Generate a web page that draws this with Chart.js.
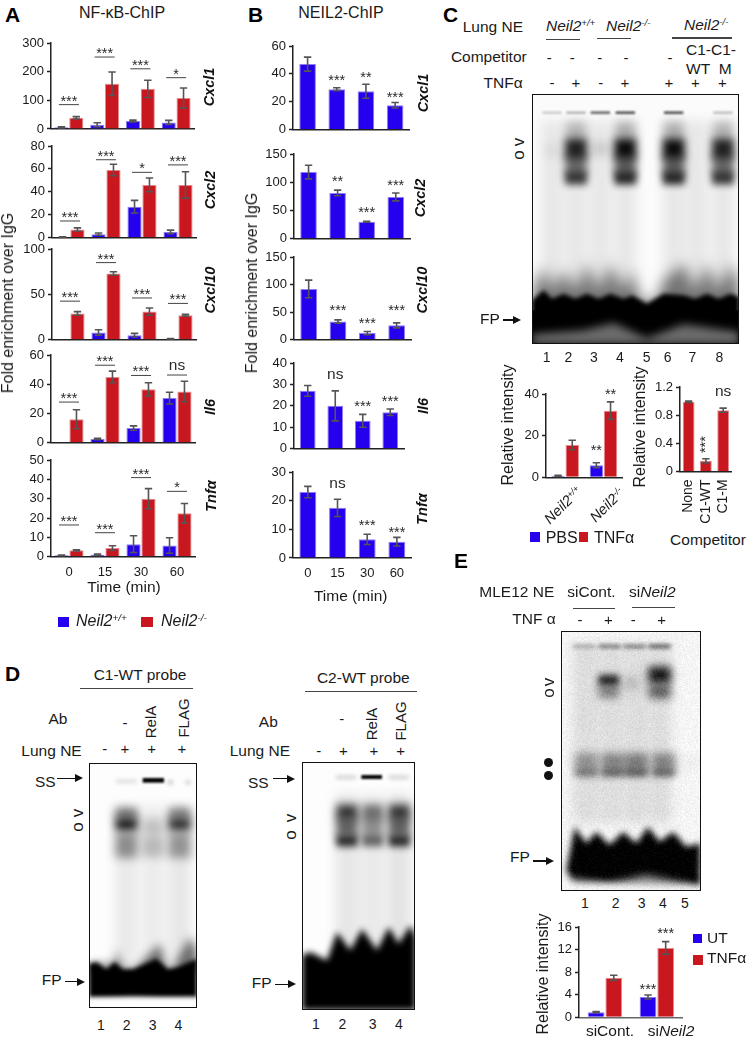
<!DOCTYPE html>
<html>
<head>
<meta charset="utf-8">
<title>NEIL2 ChIP and EMSA figure</title>
<script src="https://cdn.jsdelivr.net/npm/chart.js@4"></script>
<style>
html, body { margin: 0; padding: 0; background: #fff; }
#fig { position: relative; width: 747px; height: 1037px; overflow: hidden; font-family: "Liberation Sans", Arial, sans-serif; color: #1a1a1a; }
#fig canvas { position: absolute; }
.t { position: absolute; white-space: nowrap; line-height: 1; }
.t sup { font-size: 0.62em; line-height: 0; vertical-align: 0.5em; }
.gel { position: absolute; box-sizing: border-box; border: 1.5px solid #111; }
</style>
</head>
<body>
<div id="fig"></div>
<script>
var timeCats = ['0', '15', '30', '60'];
var siCats = ['siCont.', 'siNeil2'];
var genoCats = ['Neil2+/+', 'Neil2-/-'];
var compCats = ['None', 'C1-WT', 'C1-M'];

// panel A, NF-kB ChIP
var aCxcl1Wt = [6, 15, 28, 23], aCxcl1WtErr = [2, 7, 3, 7];
var aCxcl1Ko = [39, 158, 140, 108], aCxcl1KoErr = [4, 41, 30, 35];
var aCxcl1Sig = ['***', '***', '***', '*'], aCxcl1SigAt = [85, 251, 210, 179];

var aCxcl2Wt = [0.5, 3, 27, 5], aCxcl2WtErr = [0.3, 1, 5.5, 1.5];
var aCxcl2Ko = [7, 59, 46, 46], aCxcl2KoErr = [1.5, 5, 6, 11.5];
var aCxcl2Sig = ['***', '***', '*', '***'], aCxcl2SigAt = [14.5, 68, 57, 63.5];

var aCxcl10Wt = [0, 8, 5, 1], aCxcl10WtErr = [0, 3, 2, 0.3];
var aCxcl10Ko = [29, 73, 31, 27], aCxcl10KoErr = [2, 2, 4, 1];
var aCxcl10Sig = ['***', '***', '***', '***'], aCxcl10SigAt = [42.5, 85, 46, 40];

var aIl6Wt = [0, 2.5, 10, 30.5], aIl6WtErr = [0, 0.5, 1.5, 4];
var aIl6Ko = [16, 45, 36.5, 35], aIl6KoErr = [6.5, 4, 4.5, 7];
var aIl6Sig = ['***', '***', '***', 'ns'], aIl6SigAt = [27.8, 53, 46, 46.3];

var aTnfWt = [0.7, 1, 6.5, 5.8], aTnfWtErr = [0.2, 0.4, 4.3, 4];
var aTnfKo = [3.3, 4.5, 30, 22.5], aTnfKoErr = [0.3, 1.2, 5.2, 5];
var aTnfSig = ['***', '***', '***', '*'], aTnfSigAt = [16.4, 12.4, 40.9, 33.8];

// panel B, NEIL2 ChIP
var bCxcl1 = [47, 29, 27.5, 17.5], bCxcl1Err = [5, 1, 5, 2];
var bCxcl1Sig = [null, '***', '**', '***'], bCxcl1SigAt = [null, 32.8, 34.7, 20.8];

var bCxcl2 = [118, 81, 30, 74], bCxcl2Err = [12, 5, 1, 7];
var bCxcl2Sig = [null, '**', '***', '***'], bCxcl2SigAt = [null, 95, 40, 88.6];

var bCxcl10 = [92, 33, 12, 26], bCxcl10Err = [16, 3, 3, 4.5];
var bCxcl10Sig = [null, '***', '***', '***'], bCxcl10SigAt = [null, 46.6, 23, 46.6];

var bIl6 = [27, 20, 13, 17], bIl6Err = [2.5, 7, 3, 1.5];
var bIl6Sig = [null, 'ns', '***', '***'], bIl6SigAt = [null, 30.3, 18, 20.4];

var bTnf = [23, 17.5, 6.5, 5.7], bTnfErr = [2, 3, 1.8, 1.5];
var bTnfSig = [null, 'ns', '***', '***'], bTnfSigAt = [null, 22.7, 10, 7.7];

// panel C quantification
var cPbs = [0.7, 5.8], cPbsErr = [0.3, 1.2];
var cTnf = [15.5, 32], cTnfErr = [2.3, 4.2];
var cSig = ['**', '**'], cSigAt = [11.2, 38.2], cSigCat = [1, 1], cSigBar = [0, 1];

var compVals = [0.99, 0.15, 0.87], compErr = [0.01, 0.03, 0.03];
var compSig = ['***', 'ns'], compSigAt = [0.26, 1], compSigCat = [1, 2], compSigUp = [true, false];

// panel E quantification
var eUt = [0.9, 3.6], eUtErr = [0.1, 0.35];
var eTnf = [7, 12.3], eTnfErr = [0.45, 1.1];
var eSig = ['***', '***'], eSigAt = [4.3, 14.3], eSigCat = [1, 1], eSigBar = [0, 1];

var BLUE = '#2500ee', BLUE_EDGE = '#8d7cf4';
var RED = '#c8171e', RED_EDGE = '#e4898c';
var fig = document.getElementById('fig');

function marksPlugin(c)
{
	return {
		id: 'marks',
		afterDatasetsDraw: function (chart) {
			var ctx = chart.ctx, yS = chart.scales.y, xS = chart.scales.x;
			ctx.save();
			// error bars
			c.series.forEach(function (s, si) {
				var meta = chart.getDatasetMeta(si);
				s.err.forEach(function (e, i) {
					if (!e) return;
					var x = meta.data[i].x, hi = yS.getPixelForValue(s.vals[i] + e), lo = yS.getPixelForValue(s.vals[i] - e);
					ctx.strokeStyle = '#555';
					ctx.lineWidth = 1.6;
					ctx.beginPath();
					ctx.moveTo(x, hi); ctx.lineTo(x, lo);
					ctx.moveTo(x - 3.7, hi); ctx.lineTo(x + 3.7, hi);
					ctx.moveTo(x - 3.7, lo); ctx.lineTo(x + 3.7, lo);
					ctx.stroke();
				});
			});
			// significance labels
			(c.sig || []).forEach(function (txt, i) {
				if (!txt) return;
				var cat = c.sigCat ? c.sigCat[i] : i;
				var x = c.sigBar ? chart.getDatasetMeta(c.sigBar[i]).data[cat].x : xS.getPixelForValue(cat);
				var y = yS.getPixelForValue(c.sigAt[i]);
				var stars = txt.charAt(0) == '*';
				ctx.fillStyle = '#2a2a2a';
				ctx.textAlign = 'center';
				ctx.textBaseline = 'alphabetic';
				ctx.font = (stars ? '14.5px' : '15.5px') + ' "Liberation Sans"';
				if (c.sigUp && c.sigUp[i]) {
					ctx.save();
					ctx.translate(x + 4, y);
					ctx.rotate(-Math.PI / 2);
					ctx.textAlign = 'left';
					ctx.fillText(txt, 0, 0);
					ctx.restore();
					return;
				}
				ctx.fillText(txt, x, stars ? y + 1 : y - 5);
				if (c.sigLine) {
					ctx.strokeStyle = '#444';
					ctx.lineWidth = 1;
					ctx.beginPath();
					ctx.moveTo(x - 10, y); ctx.lineTo(x + 10, y);
					ctx.stroke();
				}
			});
			ctx.restore();
		}
	};
}

function barChart(c)
{
	var padL = 45, padT = 16, padR = 12, padB = c.padB || 14;
	var w = c.x1 - c.x0, h = c.y1 - c.y0;
	var cv = document.createElement('canvas');
	cv.width = Math.round(w + padL + padR);
	cv.height = Math.round(h + padT + padB);
	cv.style.left = (c.x0 - padL) + 'px';
	cv.style.top = (c.y0 - padT) + 'px';
	fig.appendChild(cv);
	var font = { family: '"Liberation Sans"', size: 13 };
	return new Chart(cv.getContext('2d'), {
		type: 'bar',
		plugins: [marksPlugin(c)],
		data: {
			labels: c.cats,
			datasets: c.series.map(function (s) {
				return {
					data: s.vals,
					backgroundColor: s.color == 'blue' ? BLUE : RED,
					borderColor: s.color == 'blue' ? BLUE_EDGE : RED_EDGE,
					borderWidth: 1,
					categoryPercentage: c.cp,
					barPercentage: c.bp
				};
			})
		},
		options: {
			responsive: false,
			animation: false,
			devicePixelRatio: 1,
			layout: { padding: { left: 0, top: padT, right: cv.width - padL - w, bottom: 0 } },
			plugins: { legend: { display: false }, tooltip: { enabled: false } },
			scales: {
				x: {
					afterFit: function (s) { s.height = cv.height - padT - h; },
					grid: { display: false, drawTicks: false },
					border: { display: true, color: c.axisColor || '#222', width: 1.5 },
					ticks: { display: !!c.xTicks, font: c.xFont || font, color: '#1a1a1a', padding: 8, autoSkip: false,
						minRotation: c.xRot || 0, maxRotation: c.xRot || 0 }
				},
				y: {
					min: 0,
					max: c.max,
					afterFit: function (s) { s.width = padL; },
					grid: { drawOnChartArea: false, tickLength: 4, tickColor: '#222', tickWidth: 1.5 },
					border: { color: '#222', width: 1.5 },
					ticks: { stepSize: c.step, font: font, color: '#1a1a1a', padding: 3 }
				}
			}
		}
	});
}

function ab(c) { c.cats = c.cats || timeCats; c.cp = c.cp || 0.83; c.bp = c.bp || 0.95; barChart(c); }

// A
ab({ x0: 51, x1: 194, y0: 42.7, y1: 128.7, max: 300, step: 100, sigLine: true, sig: aCxcl1Sig, sigAt: aCxcl1SigAt,
	series: [{ vals: aCxcl1Wt, err: aCxcl1WtErr, color: 'blue' }, { vals: aCxcl1Ko, err: aCxcl1KoErr, color: 'red' }] });
ab({ x0: 51.7, x1: 195.7, y0: 145.7, y1: 237.3, max: 80, step: 20, sigLine: true, sig: aCxcl2Sig, sigAt: aCxcl2SigAt,
	series: [{ vals: aCxcl2Wt, err: aCxcl2WtErr, color: 'blue' }, { vals: aCxcl2Ko, err: aCxcl2KoErr, color: 'red' }] });
ab({ x0: 52, x1: 196, y0: 249.3, y1: 340, max: 100, step: 50, sigLine: true, sig: aCxcl10Sig, sigAt: aCxcl10SigAt,
	series: [{ vals: aCxcl10Wt, err: aCxcl10WtErr, color: 'blue' }, { vals: aCxcl10Ko, err: aCxcl10KoErr, color: 'red' }] });
ab({ x0: 51, x1: 195, y0: 355.3, y1: 443, max: 60, step: 20, sigLine: true, sig: aIl6Sig, sigAt: aIl6SigAt,
	series: [{ vals: aIl6Wt, err: aIl6WtErr, color: 'blue' }, { vals: aIl6Ko, err: aIl6KoErr, color: 'red' }] });
ab({ x0: 50.7, x1: 194.7, y0: 460, y1: 556.7, max: 50, step: 10, sigLine: true, sig: aTnfSig, sigAt: aTnfSigAt, xTicks: true, padB: 26,
	series: [{ vals: aTnfWt, err: aTnfWtErr, color: 'blue' }, { vals: aTnfKo, err: aTnfKoErr, color: 'red' }] });

// B
ab({ x0: 293, x1: 409.7, y0: 45.7, y1: 129.3, max: 60, step: 20, cp: 0.6, sig: bCxcl1Sig, sigAt: bCxcl1SigAt,
	series: [{ vals: bCxcl1, err: bCxcl1Err, color: 'blue' }] });
ab({ x0: 293.7, x1: 410, y0: 154.3, y1: 239, max: 150, step: 50, cp: 0.6, sig: bCxcl2Sig, sigAt: bCxcl2SigAt,
	series: [{ vals: bCxcl2, err: bCxcl2Err, color: 'blue' }] });
ab({ x0: 294, x1: 411.3, y0: 257.3, y1: 340, max: 150, step: 50, cp: 0.6, sig: bCxcl10Sig, sigAt: bCxcl10SigAt,
	series: [{ vals: bCxcl10, err: bCxcl10Err, color: 'blue' }] });
ab({ x0: 293.7, x1: 403.7, y0: 363, y1: 448.7, max: 40, step: 10, cp: 0.6, sig: bIl6Sig, sigAt: bIl6SigAt,
	series: [{ vals: bIl6, err: bIl6Err, color: 'blue' }] });
ab({ x0: 293, x1: 411.7, y0: 472.3, y1: 558.3, max: 30, step: 10, cp: 0.6, sig: bTnfSig, sigAt: bTnfSigAt, xTicks: true, padB: 26,
	series: [{ vals: bTnf, err: bTnfErr, color: 'blue' }] });

// C
ab({ cats: genoCats, x0: 546.2, x1: 622.8, y0: 394, y1: 477.3, max: 40, step: 20, cp: 0.74, sig: cSig, sigAt: cSigAt, sigCat: cSigCat, sigBar: cSigBar,
	series: [{ vals: cPbs, err: cPbsErr, color: 'blue' }, { vals: cTnf, err: cTnfErr, color: 'red' }] });
ab({ cats: compCats, x0: 680.3, x1: 738, y0: 387.3, y1: 471.7, max: 1.2, step: 0.4, cp: 0.72, sig: compSig, sigAt: compSigAt, sigCat: compSigCat, sigUp: compSigUp,
	xTicks: true, xRot: 90, xFont: { family: '"Liberation Sans"', size: 14 }, padB: 56,
	series: [{ vals: compVals, err: compErr, color: 'red' }] });

// E
ab({ cats: siCats, x0: 579.2, x1: 683, y0: 926.7, y1: 1017, max: 16, step: 4, cp: 0.68, axisColor: '#666', sig: eSig, sigAt: eSigAt, sigCat: eSigCat, sigBar: eSigBar,
	series: [{ vals: eUt, err: eUtErr, color: 'blue' }, { vals: eTnf, err: eTnfErr, color: 'red' }] });

// text helpers
function t(html, x, y, o)
{
	o = o || {};
	var el = document.createElement('span');
	el.className = 't';
	el.innerHTML = html;
	el.style.left = x + 'px';
	el.style.top = y + 'px';
	el.style.fontSize = (o.size || 15.5) + 'px';
	if (o.bold) el.style.fontWeight = 'bold';
	if (o.italic) el.style.fontStyle = 'italic';
	if (o.color) el.style.color = o.color;
	var ax = o.align == 'left' ? '0' : o.align == 'right' ? '-100%' : '-50%';
	el.style.transform = 'translate(' + ax + ',-50%)' + (o.rot ? ' rotate(' + o.rot + 'deg)' : '');
	fig.appendChild(el);
}

function rect(x, y, w, h, color, radius)
{
	var el = document.createElement('div');
	el.style.cssText = 'position:absolute;left:' + x + 'px;top:' + y + 'px;width:' + w + 'px;height:' + h + 'px;background:' + color + (radius ? ';border-radius:50%' : '');
	fig.appendChild(el);
}

function hline(x0, x1, y, color) { rect(x0, y - 0.6, x1 - x0, 1.2, color || '#444'); }

function arrow(x0, x1, y)
{
	rect(x0, y - 0.7, x1 - x0 - 6, 1.4, '#111');
	var el = document.createElement('div');
	el.style.cssText = 'position:absolute;left:' + (x1 - 8) + 'px;top:' + (y - 4) + 'px;width:0;height:0;border-top:4px solid transparent;border-bottom:4px solid transparent;border-left:8px solid #111';
	fig.appendChild(el);
}

function signs(list, y) { list.forEach(function (p) { t(p[0], p[1], y, { size: 15 }); }); }
function numbers(xs, y) { xs.forEach(function (x, i) { t(String(i + 1), x, y, { size: 14 }); }); }
function ov(x, yv, yo) { t('v', x, yv, { size: 17, rot: -90 }); t('o', x, yo, { size: 17, rot: -90 }); }

var KO = '<i>Neil2</i><sup><i>-/-</i></sup>', WT = '<i>Neil2</i><sup><i>+/+</i></sup>';

// panel letters and titles
t('A', 5, 14, { size: 21, bold: true, align: 'left', color: '#000' });
t('B', 248, 14, { size: 21, bold: true, align: 'left', color: '#000' });
t('C', 443, 14, { size: 21, bold: true, align: 'left', color: '#000' });
t('D', 5, 673, { size: 21, bold: true, align: 'left', color: '#000' });
t('E', 454, 560, { size: 21, bold: true, align: 'left', color: '#000' });
t('NF-κB-ChIP', 122, 13, { size: 16 });
t('NEIL2-ChIP', 341, 13, { size: 16 });

// A, B labels
var geneOpt = { size: 14.5, bold: true, italic: true, rot: -90, color: '#111' };
t('Cxcl1', 209, 87, geneOpt); t('Cxcl2', 210, 190, geneOpt); t('Cxcl10', 210, 290, geneOpt);
t('Il6', 210, 407, geneOpt); t('Tnfα', 211, 496, geneOpt);
t('Cxcl1', 422.7, 93, geneOpt); t('Cxcl2', 420, 198, geneOpt); t('Cxcl10', 421.7, 290, geneOpt);
t('Il6', 422.7, 406, geneOpt); t('Tnfα', 421.7, 509, geneOpt);
t('Fold enrichment over IgG', 8, 303, { size: 16, rot: -90 });
t('Fold enrichment over IgG', 252, 283, { size: 16, rot: -90 });
t('Time (min)', 124, 587);
t('Time (min)', 350.7, 595.7);
rect(58, 617, 11, 10, BLUE);
t(WT, 76, 621, { size: 16, align: 'left' });
rect(141, 617, 11.5, 10, RED);
t(KO, 161, 621, { size: 16, align: 'left' });

// C labels
t('Lung NE', 523, 26.7, { align: 'right' });
t(WT, 546, 26, { align: 'left' });
t(KO, 606, 26, { align: 'left' });
t(KO, 684, 25, { align: 'left' });
hline(546, 580, 39.3); hline(596.7, 630.7, 38.7); hline(672, 732, 38);
t('Competitor', 526.7, 56.7, { align: 'right' });
signs([['-', 549.3], ['-', 572.3], ['-', 599.7], ['-', 626], ['-', 670]], 57);
t('C1-C1-', 686, 50, { align: 'left' });
t('WT&nbsp;&nbsp;M', 686, 68.5, { align: 'left' });
t('TNFα', 522.7, 82.7, { align: 'right' });
signs([['-', 552], ['+', 576], ['-', 600.7], ['+', 625], ['+', 669], ['+', 695.3], ['+', 722.3]], 82);
ov(518, 141.7, 155);
t('FP', 480, 319, { align: 'left' });
arrow(502.7, 520.7, 320);
numbers([546.7, 568.3, 594, 620, 646.7, 667.7, 692.3, 719.3], 357);
t('Relative intensity', 508, 425, { size: 16, rot: -90 });
t('Relative intensity', 640, 427, { size: 16, rot: -90 });
t(WT, 563, 505, { size: 14.5, rot: -45 });
t(KO, 607, 505, { size: 14.5, rot: -45 });
rect(530, 532, 10, 9.7, BLUE);
t('PBS', 545.7, 537.7, { size: 16, align: 'left' });
rect(579, 532, 9, 9.7, RED);
t('TNFα', 594, 537.7, { size: 16, align: 'left' });
t('Competitor', 708, 540);

// D labels
t('C1-WT probe', 140, 675);
hline(80, 192.7, 688.7);
t('Ab', 58, 719);
t('-', 125, 721.7, { size: 15 });
t('RelA', 150, 721.7, { size: 15, rot: -90 });
t('FLAG', 182.7, 717.7, { size: 15, rot: -90 });
t('Lung NE', 81.7, 751, { align: 'right' });
signs([['-', 104.7], ['+', 125], ['+', 151.7], ['+', 182]], 748);
t('SS', 35, 781.7, { align: 'left' });
arrow(57, 82.7, 778.3);
t('FP', 41.7, 980, { align: 'left' });
arrow(65, 85, 981.7);
ov(76.7, 813, 827);
numbers([101, 126.7, 152.7, 178.3], 1025);

t('C2-WT probe', 363.3, 677.7);
hline(305, 417.3, 691.7);
t('Ab', 268.3, 721.7);
t('-', 341.7, 717.7, { size: 15 });
t('RelA', 370.7, 724, { size: 15, rot: -90 });
t('FLAG', 400, 721, { size: 15, rot: -90 });
t('Lung NE', 290, 751, { align: 'right' });
signs([['-', 318.7], ['+', 343.3], ['+', 374], ['+', 400.7]], 750);
t('SS', 248, 783, { align: 'left' });
arrow(273, 295, 778.7);
t('FP', 251.7, 982.7, { align: 'left' });
arrow(275, 295.7, 984.3);
ov(290, 817.7, 835);
numbers([316, 342.3, 372.7, 399], 1024);

// E labels
t('MLE12 NE', 479.3, 591.7, { align: 'left' });
t('siCont.', 567.3, 591.7, { align: 'left' });
t('si<i>Neil2</i>', 629, 591.7, { align: 'left' });
hline(572.7, 615.3, 608.3); hline(632, 675, 607.7);
t('TNF α', 555.7, 619.3, { align: 'right' });
signs([['-', 580], ['+', 608.3], ['-', 633.3], ['+', 661.7]], 619);
ov(548, 681.7, 692.7);
rect(544.2, 757.5, 9, 9, '#111', true);
rect(544.2, 771.2, 9, 9, '#111', true);
t('FP', 510, 857.3, { align: 'left' });
arrow(532.7, 554.3, 861);
numbers([585, 615.7, 641.7, 663, 685], 903);
t('Relative intensity', 543.3, 974, { size: 16, rot: -90 });
t('siCont.', 610, 1031);
t('si<i>Neil2</i>', 671, 1031);
rect(693, 934, 9, 8.7, BLUE);
t('UT', 707, 937.7, { align: 'left' });
rect(692.7, 955, 10, 9.7, RED);
t('TNFα', 707, 958.3, { align: 'left' });

// gels are photographs, painted here as blurred shapes in reference zoom units
function gel(x, y, w, h, ox, oy, bg, paint, grain)
{
	var cv = document.createElement('canvas');
	cv.width = w; cv.height = h;
	cv.style.left = x + 'px'; cv.style.top = y + 'px';
	fig.appendChild(cv);
	var ctx = cv.getContext('2d');
	ctx.fillStyle = bg;
	ctx.fillRect(0, 0, w, h);
	ctx.scale(1 / 3, 1 / 3);
	ctx.translate(-ox, -oy);
	paint(ctx);
	ctx.setTransform(1, 0, 0, 1, 0, 0);
	if (grain) {
		var img = ctx.getImageData(0, 0, w, h);
		for (var i = 0; i < img.data.length; i += 4) {
			var n = Math.sin(i * 12.9898) * 43758.5453;
			n = (n - Math.floor(n) - 0.5) * grain;
			img.data[i] += n; img.data[i + 1] += n; img.data[i + 2] += n;
		}
		ctx.putImageData(img, 0, 0);
	}
	var box = document.createElement('div');
	box.className = 'gel';
	box.style.cssText = 'left:' + x + 'px;top:' + y + 'px;width:' + w + 'px;height:' + h + 'px';
	fig.appendChild(box);
}

function blob(ctx, cx, cy, w, h, a, blur)
{
	ctx.save();
	ctx.filter = 'blur(' + blur + 'px)';
	ctx.fillStyle = 'rgba(0,0,0,' + a + ')';
	ctx.fillRect(cx - w / 2, cy - h / 2, w, h);
	ctx.restore();
}

function poly(ctx, pts, color, blur)
{
	ctx.save();
	ctx.filter = 'blur(' + blur + 'px)';
	ctx.fillStyle = color;
	ctx.beginPath();
	pts.forEach(function (p, i) { if (i) ctx.lineTo(p[0], p[1]); else ctx.moveTo(p[0], p[1]); });
	ctx.closePath();
	ctx.fill();
	ctx.restore();
}

gel(531.7, 93.7, 207.5, 250, 245, 281, '#fbfbfb', function (ctx) {
	[305, 377, 450, 525, 670, 740, 818].forEach(function (x) { blob(ctx, x, 640, 62, 560, 0.08, 6); });
	[[305, 0.2], [377, 0.3], [450, 0.65], [525, 0.75], [670, 0.75], [818, 0.25]].forEach(function (p) { blob(ctx, p[0], 337, 58, 7, p[1], 1.2); });
	blob(ctx, 450, 445, 50, 40, 0.13, 5);
	blob(ctx, 305, 450, 50, 40, 0.05, 5);
	[[377, 0.9], [525, 1], [670, 1], [818, 0.9]].forEach(function (p) {
		blob(ctx, p[0], 390, 62, 50, p[1] * 0.25, 5);
		blob(ctx, p[0], 445, 66, 62, p[1] * 0.95, 4);
		blob(ctx, p[0], 495, 64, 60, p[1] * 0.6, 4);
		blob(ctx, p[0], 533, 66, 40, p[1] * 0.8, 3.5);
	});
	poly(ctx, [[245, 870], [280, 800], [305, 870], [340, 810], [375, 870], [410, 790], [445, 870], [480, 790], [520, 870], [545, 810], [570, 900], [620, 900], [640, 840], [700, 790], [735, 870], [770, 790], [805, 870], [840, 790], [867, 850], [867, 950], [245, 950]], 'rgba(0,0,0,0.5)', 7);
	poly(ctx, [[245, 900], [280, 870], [305, 895], [340, 880], [375, 895], [410, 880], [445, 895], [480, 880], [520, 895], [545, 885], [590, 910], [640, 880], [700, 885], [735, 895], [770, 880], [805, 895], [840, 880], [867, 890], [867, 1000], [245, 1000]], '#000', 2);
	ctx.fillStyle = '#000';
	ctx.fillRect(245, 930, 622, 100);
	poly(ctx, [[245, 1002], [400, 990], [490, 968], [590, 1014], [700, 972], [867, 995], [867, 1032], [245, 1032]], 'rgba(255,255,255,0.42)', 4);
});

gel(89.3, 762.7, 108, 245, 268, 338, '#fdfdfd', function (ctx) {
	[[380, 0.08], [460, 0.07], [540, 0.09]].forEach(function (p) { blob(ctx, p[0], 700, 65, 470, p[1], 6); });
	blob(ctx, 380, 393, 62, 8, 0.18, 2);
	blob(ctx, 461, 390, 64, 14, 1, 1);
	blob(ctx, 512, 396, 14, 10, 0.3, 2);
	blob(ctx, 565, 396, 14, 10, 0.25, 2);
	[[380, 1], [540, 0.9]].forEach(function (p) {
		blob(ctx, p[0], 490, 66, 35, p[1] * 0.5, 4);
		blob(ctx, p[0], 522, 66, 36, p[1] * 0.9, 4);
		blob(ctx, p[0], 585, 66, 75, p[1] * 0.4, 5);
	});
	blob(ctx, 460, 530, 65, 50, 0.18, 5);
	blob(ctx, 460, 590, 65, 60, 0.22, 5);
	poly(ctx, [[268, 940], [345, 940], [350, 900], [370, 950], [410, 950], [480, 880], [500, 950], [520, 950], [570, 860], [592, 900], [592, 960], [268, 960]], 'rgba(0,0,0,0.55)', 5);
	poly(ctx, [[268, 940], [290, 935], [320, 955], [345, 935], [370, 955], [400, 955], [470, 925], [505, 955], [530, 950], [592, 925], [592, 1040], [268, 1040]], '#000', 2);
	poly(ctx, [[268, 1055], [400, 1042], [500, 1050], [592, 1048], [592, 1074], [268, 1074]], 'rgba(255,255,255,0.5)', 3);
});

gel(301.7, 761.7, 113.6, 248.3, 215, 335, '#fdfdfd', function (ctx) {
	[[350, 0.09], [427, 0.08], [507, 0.1]].forEach(function (p) { blob(ctx, p[0], 680, 68, 500, p[1], 6); });
	[[347, 0.22], [505, 0.22]].forEach(function (p) { blob(ctx, p[0], 381, 60, 9, p[1], 2); });
	blob(ctx, 424, 380, 62, 12, 1, 1);
	[[350, 0.95], [427, 0.65], [507, 0.95]].forEach(function (p) {
		blob(ctx, p[0], 485, 64, 45, p[1] * 0.8, 4.5);
		blob(ctx, p[0], 530, 64, 60, p[1] * 0.6, 4.5);
		blob(ctx, p[0], 572, 64, 34, p[1] * 0.85, 3.5);
	});
	poly(ctx, [[215, 915], [240, 905], [290, 930], [320, 845], [360, 900], [395, 835], [440, 900], [475, 830], [505, 880], [540, 825], [556, 860], [556, 1080], [215, 1080]], '#000', 3);
});

gel(561.3, 631, 139.4, 259.7, 304, 243, '#f5f5f5', function (ctx) {
	[375, 450, 525, 600].forEach(function (x) { blob(ctx, x, 550, 68, 540, 0.1, 6); });
	blob(ctx, 680, 640, 70, 40, 0.03, 5);
	[[372, 0.4], [450, 0.7], [525, 0.7], [600, 0.9]].forEach(function (p) { blob(ctx, p[0], 289, 66, 8, p[1], 2); });
	blob(ctx, 447, 390, 62, 30, 0.9, 3.5);
	blob(ctx, 447, 425, 62, 38, 0.45, 4);
	blob(ctx, 600, 375, 68, 50, 0.9, 4);
	blob(ctx, 600, 425, 66, 40, 0.6, 4);
	blob(ctx, 515, 400, 40, 40, 0.18, 5);
	[[380, 0.5], [460, 0.6], [530, 0.65], [612, 0.6]].forEach(function (p) {
		blob(ctx, p[0], 635, 68, 50, p[1] * 0.7, 4);
		blob(ctx, p[0], 668, 68, 22, p[1], 3.5);
	});
	poly(ctx, [[320, 960], [345, 830], [380, 880], [410, 845], [450, 885], [490, 845], [530, 880], [565, 830], [600, 875], [640, 845], [680, 890], [722, 880], [722, 1005], [340, 1000]], '#000', 3);
	poly(ctx, [[330, 985], [450, 1000], [560, 975], [700, 1005], [710, 1022], [310, 1022]], 'rgba(255,255,255,0.6)', 4);
}, 18);

</script>
</body>
</html>
